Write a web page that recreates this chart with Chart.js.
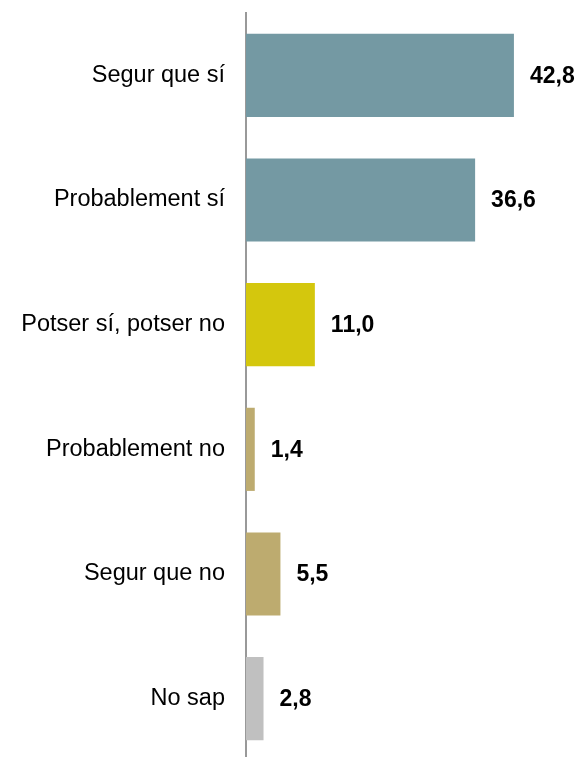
<!DOCTYPE html>
<html>
<head>
<meta charset="utf-8">
<script src="https://cdn.jsdelivr.net/npm/chart.js@4"></script>
<style>
html,body{margin:0;padding:0;background:#fff;overflow:hidden;height:757px;}
#wrap{width:579px;height:761px;position:relative;}
</style>
</head>
<body>
<div id="wrap"><canvas id="c"></canvas></div>
<script>
const categories = ["Segur que sí", "Probablement sí", "Potser sí, potser no", "Probablement no", "Segur que no", "No sap"];
const values = [42.8, 36.6, 11.0, 1.4, 5.5, 2.8];
const valueLabels = ["42,8", "36,6", "11,0", "1,4", "5,5", "2,8"];
const barColors = ["#7499A3", "#7499A3", "#D4C70D", "#BDAB6F", "#BDAB6F", "#C0C0C0"];

const valuePlugin = {
  id: 'valueLabels',
  afterDatasetsDraw(chart) {
    const ctx = chart.ctx;
    const meta = chart.getDatasetMeta(0);
    ctx.save();
    ctx.font = 'bold 23px "Liberation Sans", Arial, sans-serif';
    ctx.fillStyle = '#000';
    ctx.textAlign = 'left';
    ctx.textBaseline = 'middle';
    meta.data.forEach((bar, i) => {
      ctx.fillText(valueLabels[i], bar.x + 16, bar.y + 1);
    });
    ctx.restore();
  }
};

new Chart(document.getElementById('c'), {
  type: 'bar',
  data: {
    labels: categories,
    datasets: [{
      data: values,
      backgroundColor: barColors,
      borderWidth: 0,
      categoryPercentage: 1,
      barPercentage: 0.667
    }]
  },
  options: {
    indexAxis: 'y',
    responsive: true,
    maintainAspectRatio: false,
    animation: false,
    layout: { padding: { top: 13, right: 20, bottom: 0, left: 0 } },
    plugins: { legend: { display: false }, tooltip: { enabled: false } },
    scales: {
      x: { display: false, min: 0, max: 50 },
      y: {
        grid: { display: false, drawTicks: false },
        border: { display: true, color: '#999999', width: 2 },
        ticks: {
          color: '#000',
          padding: 21,
          font: { family: '"Liberation Sans", Arial, sans-serif', size: 23.5 }
        },
        afterFit(scale) {
          scale.width = 246;
          scale.paddingTop = 0;
          scale.paddingBottom = 0;
        }
      }
    }
  },
  plugins: [valuePlugin]
});
</script>
</body>
</html>
